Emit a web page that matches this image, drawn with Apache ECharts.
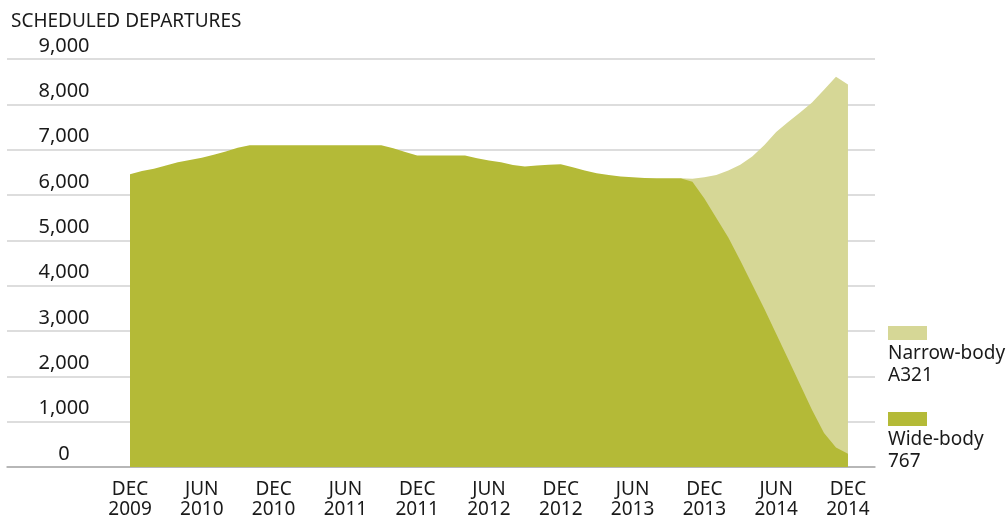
<!DOCTYPE html>
<html>
<head>
<meta charset="utf-8">
<script src="https://cdn.jsdelivr.net/npm/echarts@6/dist/echarts.min.js"></script>
<style>
html,body{margin:0;padding:0;background:#fff;}
#chart{width:1008px;height:523px;}
</style>
</head>
<body>
<div id="chart"></div>
<script>
// Months counted from Dec 2009 (index 0) to Dec 2014 (index 60)
const tickMonths = [0, 6, 12, 18, 24, 30, 36, 42, 48, 54, 60];
const tickLabels = ['DEC\n2009','JUN\n2010','DEC\n2010','JUN\n2011','DEC\n2011','JUN\n2012','DEC\n2012','JUN\n2013','DEC\n2013','JUN\n2014','DEC\n2014'];
const yTicks = [0,1000,2000,3000,4000,5000,6000,7000,8000,9000];

// Wide-body 767 scheduled departures, monthly, Dec 2009 .. Dec 2014
const wideBody = [
  6460,6530,6580,6650,6720,6770,6820,6890,6960,7040,7100,
  7100,7100,7100,7100,7100,7100,7100,7100,7100,7100,7100,
  7030,6950,6870,6870,6870,6870,6870,6810,6760,6720,6660,6630,6650,6670,6680,6610,6540,6480,6440,6410,6390,6375,6370,6370,6370,
  6290,5925,5490,5063,4553,4025,3497,2940,2380,1820,1260,750,430,290
];
// Narrow-body A321 scheduled departures, monthly, starting at month index 46 (Oct 2013)
const narrowStart = 46;
const narrowBody = [0,70,465,950,1477,2117,2825,3603,4450,5230,6000,6780,7570,8180,8150];

const seriesNames = ['Wide-body 767','Narrow-body A321'];
const colors = { wide: '#b4ba37', narrow: '#d6d796' };

// Stacked layout built from the arrays: narrow-body sits on top of wide-body
const wideData = wideBody.map((v, i) => [i, v]);
const narrowStackData = wideBody
  .map((v, i) => i >= narrowStart ? [i, v + narrowBody[i - narrowStart]] : null)
  .filter(d => d !== null);

const chart = echarts.init(document.getElementById('chart'));
const FONT = 'Noto Sans';
chart.setOption({
  animation: false,
  textStyle: { fontFamily: FONT },
  title: {
    text: 'SCHEDULED DEPARTURES',
    left: 6, top: 7,
    textStyle: { fontFamily: FONT, fontSize: 19, fontWeight: 'normal', color: '#1a1a1a' }
  },
  grid: { left: 7, right: 133, top: 59, bottom: 56, containLabel: false },
  xAxis: {
    type: 'value',
    min: -10.28, max: 62.26,
    axisLine: { show: true, lineStyle: { color: '#aaaaaa', width: 1.5 } },
    axisTick: { show: false },
    splitLine: { show: false },
    axisLabel: {
      customValues: tickMonths,
      formatter: (v) => tickLabels[tickMonths.indexOf(Math.round(v))] || '',
      fontFamily: FONT, fontSize: 19, lineHeight: 20, color: '#1a1a1a', margin: 13, align: 'center'
    }
  },
  yAxis: {
    type: 'value',
    min: 0, max: 9000, interval: 1000,
    axisLine: { show: false },
    axisTick: { show: false },
    splitLine: { show: true, lineStyle: { color: '#d2d2d2', width: 1.5 } },
    axisLabel: {
      inside: true,
      margin: 57,
      align: 'center',
      verticalAlign: 'bottom',
      padding: [0, 0, 3, 0],
      fontFamily: FONT, fontSize: 20, color: '#1a1a1a',
      formatter: (v) => yTicks.indexOf(v) >= 0 ? v.toLocaleString('en-US') : ''
    }
  },
  series: [
    {
      name: seriesNames[1], type: 'line', data: narrowStackData,
      symbol: 'none', lineStyle: { width: 0 }, itemStyle: { color: colors.narrow },
      areaStyle: { color: colors.narrow, opacity: 1 }, z: 1
    },
    {
      name: seriesNames[0], type: 'line', data: wideData,
      symbol: 'none', lineStyle: { width: 0 }, itemStyle: { color: colors.wide },
      areaStyle: { color: colors.wide, opacity: 1 }, z: 2
    }
  ],
  graphic: [
    { type: 'rect', left: 888, top: 326, shape: { width: 39, height: 14 }, style: { fill: colors.narrow } },
    { type: 'text', left: 888, top: 343, style: { text: 'Narrow-body\nA321', fontFamily: FONT, fontSize: 19, lineHeight: 22, fill: '#1a1a1a' } },
    { type: 'rect', left: 888, top: 412, shape: { width: 39, height: 14 }, style: { fill: colors.wide } },
    { type: 'text', left: 888, top: 429, style: { text: 'Wide-body\n767', fontFamily: FONT, fontSize: 19, lineHeight: 22, fill: '#1a1a1a' } }
  ]
});
</script>
</body>
</html>
